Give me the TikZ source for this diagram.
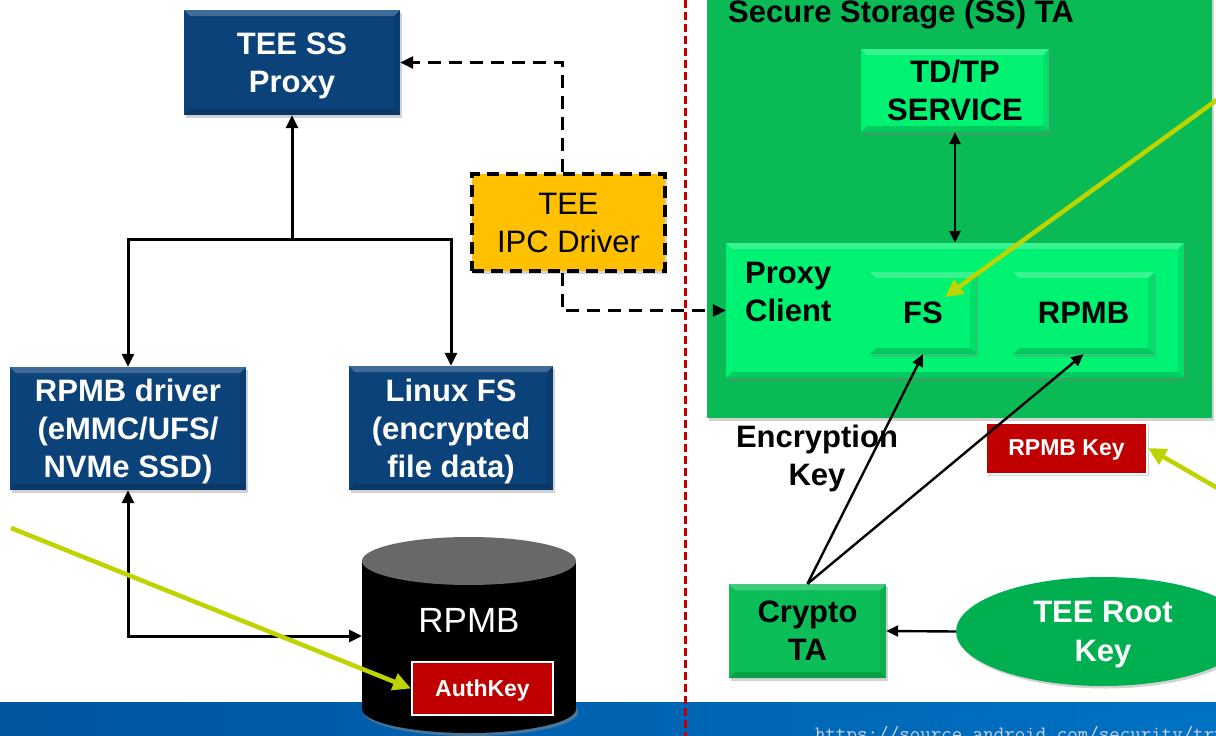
\documentclass[tikz,border=0pt]{standalone}
\usepackage{fontspec}
\setmainfont{Liberation Sans}
\usetikzlibrary{arrows.meta,shadows,shapes.geometric}

\definecolor{ssblue}{RGB}{12,66,122}
\definecolor{ipcyellow}{RGB}{255,192,0}
\definecolor{panelgreen}{RGB}{10,187,85}
\definecolor{cryptogreen}{RGB}{12,190,88}
\definecolor{litegreen}{RGB}{0,242,114}
\definecolor{rootgreen}{RGB}{0,176,80}
\definecolor{keyred}{RGB}{192,0,0}
\definecolor{pointer}{RGB}{190,212,0}
\definecolor{banddark}{RGB}{0,84,160}
\definecolor{bandlight}{RGB}{0,114,196}
\definecolor{urlgray}{RGB}{205,210,222}
\definecolor{cyltop}{RGB}{104,104,104}

\tikzset{
  bevel/.style={path picture={
    \fill[white,opacity=0.22] (path picture bounding box.north west) -- (path picture bounding box.north east)
      -- ([xshift=-#1,yshift=-#1]path picture bounding box.north east) -- ([xshift=#1,yshift=-#1]path picture bounding box.north west) -- cycle;
    \fill[black,opacity=0.16] (path picture bounding box.south west) -- (path picture bounding box.south east)
      -- ([xshift=-#1,yshift=#1]path picture bounding box.south east) -- ([xshift=#1,yshift=#1]path picture bounding box.south west) -- cycle;
    \fill[black,opacity=0.08] (path picture bounding box.north east) -- (path picture bounding box.south east)
      -- ([xshift=-#1,yshift=#1]path picture bounding box.south east) -- ([xshift=-#1,yshift=-#1]path picture bounding box.north east) -- cycle;
  }},
  bevel/.default=6pt,
  softshadow/.style={drop shadow={shadow xshift=2pt,shadow yshift=-2.5pt,opacity=0.35}},
  tbox/.style={rectangle, inner sep=0pt, align=center, text depth=0pt, font=\bfseries\fontsize{31}{38}\selectfont},
  bluebox/.style={tbox, fill=ssblue, text=white, bevel, softshadow},
  greenbox/.style={tbox, fill=litegreen, text=black, bevel, softshadow},
  ipcbox/.style={rectangle, inner sep=0pt, align=center, text depth=0pt, fill=ipcyellow, draw=black, line width=3.5pt,
    dash pattern=on 12pt off 7pt, font=\fontsize{31}{38}\selectfont, softshadow},
  redkey/.style={rectangle, inner sep=0pt, text depth=0pt, fill=keyred, draw=white, line width=2pt, text=white,
    font=\bfseries\fontsize{23}{27}\selectfont},
  link/.style={line width=3pt, -{Triangle[length=13pt,width=12pt]}},
  dashlink/.style={line width=3pt, dash pattern=on 13pt off 8pt, -{Triangle[length=13pt,width=12pt]}},
  thinlink/.style={line width=2.4pt, -{Triangle[length=12pt,width=11pt]}},
  pointerarrow/.style={draw=pointer, line width=4.5pt, -{Triangle[length=18pt,width=17pt]}},
}

\begin{document}
\begin{tikzpicture}[x=1pt,y=-1pt]
  \useasboundingbox (0,0) rectangle (1216,736);
  \clip (0,0) rectangle (1216,736);
  \fill[white] (0,0) rectangle (1216,736);

  % bottom band and source line
  \shade[left color=banddark,right color=bandlight] (0,702) rectangle (1216,736);
  \node[anchor=base west, inner sep=0pt, text=urlgray, font=\ttfamily\fontsize{20.4}{24}\selectfont]
    (srcurl) at (815,740) {https://source.android.com/security/trusty};

  % ---------- normal world ----------
  \node[bluebox, minimum width=216pt, minimum height=105pt] (proxy) at (292,62.5) {TEE SS\\Proxy};
  \node[ipcbox, minimum width=193pt, minimum height=97pt] (ipc) at (568.5,222.5) {TEE\\IPC Driver};
  \node[bluebox, minimum width=236pt, minimum height=123pt] (rpmbdrv) at (128,428.5) {RPMB driver\\(eMMC/UFS/\\NVMe SSD)};
  \node[bluebox, minimum width=204pt, minimum height=124pt] (linuxfs) at (451,428) {Linux FS\\(encrypted\\file data)};

  % RPMB storage cylinder
  \fill[black!45,opacity=0.5] (471,712) ellipse [x radius=107, y radius=24];
  \fill[black] (362,561) rectangle (576,709);
  \fill[black] (469,709) ellipse [x radius=107, y radius=24];
  \fill[cyltop] (469,561) ellipse [x radius=107, y radius=24];
  \node[text=white, font=\fontsize{35}{40}\selectfont, inner sep=0pt] (rpmbstore) at (469,620) {RPMB};
  \coordinate (cylleft) at (362,636);
  \node[redkey, minimum width=141pt, minimum height=53pt] (authkey) at (482.5,688.5) {AuthKey};

  % connectors of the normal world
  \coordinate (branch) at (292,239);
  \draw[link] (branch) -- (proxy.south);
  \draw[link] (branch) -| (rpmbdrv.north);
  \draw[link] (branch) -| (linuxfs.north);
  \draw[line width=3pt, {Triangle[length=13pt,width=12pt]}-{Triangle[length=13pt,width=12pt]}]
    (rpmbdrv.south) |- (cylleft);

  % ---------- secure world ----------
  \node[rectangle, fill=panelgreen, minimum width=505pt, minimum height=438pt, inner sep=0pt, softshadow]
    (sspanel) at (959.5,199) {};
  \node[anchor=base west, inner sep=0pt, font=\bfseries\fontsize{31}{38}\selectfont]
    (sstitle) at (728,23) {Secure Storage (SS) TA};
  \node[greenbox, minimum width=188pt, minimum height=83pt] (tdtp) at (955,90.5) {TD/TP\\SERVICE};
  \node[greenbox, minimum width=458pt, minimum height=135pt] (pclient) at (955,310.5) {};
  \node[tbox, anchor=west, align=left] (pclabel) at (745,292) {Proxy\\Client};
  \node[greenbox, minimum width=106pt, minimum height=82pt] (fs) at (923,313) {FS};
  \node[greenbox, minimum width=141pt, minimum height=82pt] (rpmbta) at (1083.5,313) {RPMB};

  \node[redkey, minimum width=161pt, minimum height=51pt, softshadow] (rpmbkey) at (1066.5,448) {RPMB Key};
  \node[tbox] (enclabel) at (817,455) {Encryption\\Key};
  \node[tbox, fill=cryptogreen, bevel, softshadow, minimum width=157pt, minimum height=94pt] (crypto) at (807.5,631) {Crypto\\TA};
  \node[ellipse, fill=rootgreen, inner sep=0pt, minimum width=294pt, minimum height=109pt, text=white,
    align=center, text depth=0pt, font=\bfseries\fontsize{31}{39}\selectfont, softshadow] (rootkey) at (1103,631.5) {TEE Root\\Key};

  % connectors of the secure world
  \draw[line width=2.4pt, {Triangle[length=12pt,width=11pt]}-{Triangle[length=12pt,width=11pt]}]
    (tdtp.south) -- (pclient.north);
  \draw[thinlink] (crypto.north) -- (fs.south);
  \draw[thinlink] (crypto.north) -- (rpmbta.south);
  \draw[thinlink] (rootkey.west) -- (crypto.east);

  % IPC paths across the boundary
  \draw[dashlink] ([xshift=-6.5pt]ipc.north) |- (proxy.east);
  \draw[dashlink] ([xshift=-6.5pt]ipc.south) |- (pclient.west);

  % highlight pointers
  \coordinate (leftptr) at (11,528);
  \coordinate (fsptr) at (1236,86);
  \coordinate (keyptr) at (1240,501);
  \draw[pointerarrow] (leftptr) -- (authkey.west);
  \draw[pointerarrow, shorten >=27pt] (fsptr) -- (fs.center);
  \draw[pointerarrow] (keyptr) -- (rpmbkey.east);

  % normal / secure world boundary
  \coordinate (bndtop) at (685,0);
  \coordinate (bndbot) at (685,736);
  \draw[keyred, line width=3pt, dash pattern=on 8pt off 4pt] (bndtop) -- (bndbot);
\end{tikzpicture}
\end{document}
